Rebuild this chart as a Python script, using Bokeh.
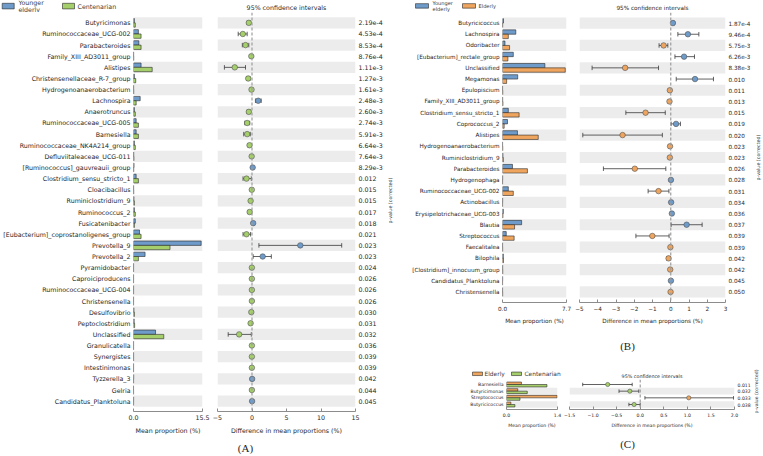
import math
from bokeh.plotting import figure
from bokeh.models import (Range1d, LinearAxis, FixedTicker, Span, ColumnDataSource,
                          PrintfTickFormatter)
from bokeh.layouts import row, column
from bokeh.transform import dodge
from bokeh.core.properties import value
from bokeh.embed import file_html
from bokeh.resources import INLINE

# ---------------- data: panel A (Younger elderly vs Centenarian) ----------------
names_A = ["Butyricimonas", "Ruminococcaceae_UCG-002", "Parabacteroides", "Family_XIII_AD3011_group",
           "Alistipes", "Christensenellaceae_R-7_group", "Hydrogenoanaerobacterium", "Lachnospira",
           "Anaerotruncus", "Ruminococcaceae_UCG-005", "Barnesiella", "Ruminococcaceae_NK4A214_group",
           "Defluviitaleaceae_UCG-011", "[Ruminococcus]_gauvreauii_group", "Clostridium_sensu_stricto_1",
           "Cloacibacillus", "Ruminiclostridium_9", "Ruminococcus_2", "Fusicatenibacter",
           "[Eubacterium]_coprostanoligenes_group", "Prevotella_9", "Prevotella_2", "Pyramidobacter",
           "Caproiciproducens", "Ruminococcaceae_UCG-004", "Christensenella", "Desulfovibrio",
           "Peptoclostridium", "Unclassified", "Granulicatella", "Synergistes", "Intestinimonas",
           "Tyzzerella_3", "Gelria", "Candidatus_Planktoluna"]
young_A = [0.20, 1.10, 1.20, 0.03, 1.70, 0.20, 0.03, 1.50, 0.20, 0.60, 0.60, 0.20, 0.05, 0.12, 0.60,
           0.03, 0.10, 0.20, 0.40, 1.35, 15.20, 2.60, 0.02, 0.02, 0.02, 0.02, 0.10, 0.15, 4.95, 0.02,
           0.02, 0.02, 0.04, 0.01, 0.03]
cent_A = [0.40, 1.70, 1.70, 0.05, 4.20, 0.50, 0.05, 0.60, 0.40, 1.10, 1.10, 0.40, 0.10, 0.05, 1.10,
          0.05, 0.20, 0.40, 0.20, 1.70, 8.20, 1.10, 0.02, 0.02, 0.02, 0.02, 0.20, 0.25, 6.80, 0.02,
          0.02, 0.02, 0.02, 0.02, 0.02]
diff_A = [-0.46, -1.33, -0.94, -0.10, -2.50, -0.55, -0.07, 0.90, -0.46, -0.70, -0.70, -0.36, -0.05,
          0.10, -0.80, -0.03, -0.20, -0.34, 0.17, -0.80, 7.00, 1.55, -0.02, -0.02, -0.02, -0.02,
          -0.10, -0.20, -1.86, -0.02, -0.02, -0.02, 0.02, -0.02, 0.01]
lo_A = [-0.70, -2.00, -1.40, -0.20, -4.00, -0.80, -0.15, 0.50, -0.70, -1.05, -1.20, -0.55, -0.12,
        0.02, -1.30, -0.07, -0.35, -0.55, 0.05, -1.30, 1.00, 0.17, -0.05, -0.05, -0.05, -0.05,
        -0.20, -0.35, -3.45, -0.05, -0.05, -0.05, 0.00, -0.05, 0.00]
hi_A = [-0.22, -0.70, -0.46, -0.01, -0.94, -0.30, -0.01, 1.33, -0.22, -0.33, -0.25, -0.15, -0.01,
        0.18, -0.10, -0.01, -0.05, -0.12, 0.30, -0.20, 13.00, 2.80, -0.01, -0.01, -0.01, -0.01,
        -0.02, -0.05, -0.10, -0.01, -0.01, -0.01, 0.04, -0.01, 0.03]
pvals_A = ["2.19e-4", "4.53e-4", "8.53e-4", "8.76e-4", "1.11e-3", "1.27e-3", "1.61e-3", "2.48e-3",
           "2.60e-3", "2.74e-3", "5.91e-3", "6.64e-3", "7.64e-3", "8.29e-3", "0.012", "0.015", "0.015",
           "0.017", "0.018", "0.021", "0.023", "0.023", "0.024", "0.026", "0.026", "0.026", "0.030",
           "0.031", "0.032", "0.036", "0.039", "0.039", "0.042", "0.044", "0.045"]
bar_max_A = 15.5
ci_range_A = (-5, 15)
ci_ticks_A = [-5, 0, 5, 10, 15]

# ---------------- data: panel B (Younger elderly vs Elderly) ----------------
names_B = ["Butyricicoccus", "Lachnospira", "Odoribacter", "[Eubacterium]_rectale_group", "Unclassified",
           "Megamonas", "Epulopiscium", "Family_XIII_AD3011_group", "Clostridium_sensu_stricto_1",
           "Coprococcus_2", "Alistipes", "Hydrogenoanaerobacterium", "Ruminiclostridium_9",
           "Parabacteroides", "Hydrogenophaga", "Ruminococcaceae_UCG-002", "Actinobacillus",
           "Erysipelotrichaceae_UCG-003", "Blautia", "Streptococcus", "Faecalitalea", "Bilophila",
           "[Clostridium]_innocuum_group", "Candidatus_Planktoluna", "Christensenella"]
young_B = [0.12, 1.60, 0.30, 1.30, 5.10, 1.83, 0.01, 0.02, 0.70, 0.60, 1.80, 0.01, 0.05, 1.20, 0.02,
           0.70, 0.02, 0.10, 2.30, 0.45, 0.01, 0.10, 0.02, 0.02, 0.01]
eld_B = [0.02, 0.70, 0.85, 0.65, 7.55, 0.50, 0.03, 0.05, 2.00, 0.20, 4.30, 0.03, 0.10, 3.00, 0.01,
         1.30, 0.01, 0.05, 1.45, 1.40, 0.02, 0.12, 0.03, 0.01, 0.02]
diff_B = [0.12, 0.94, -0.39, 0.73, -2.50, 1.33, -0.05, -0.07, -1.38, 0.29, -2.64, -0.04, -0.05, -1.97,
          0.01, -0.67, 0.02, 0.06, 0.87, -1.01, -0.02, -0.12, -0.03, 0.01, -0.01]
lo_B = [0.06, 0.39, -0.64, 0.23, -4.31, 0.30, -0.10, -0.13, -2.46, 0.02, -4.82, -0.08, -0.10, -3.69,
        0.00, -1.24, 0.00, 0.02, 0.02, -1.91, -0.05, -0.22, -0.06, 0.00, -0.03]
hi_B = [0.18, 1.54, -0.16, 1.30, -0.67, 2.34, -0.01, -0.02, -0.30, 0.53, -0.46, -0.01, -0.01, -0.27,
        0.02, -0.10, 0.04, 0.10, 1.72, -0.09, -0.01, -0.03, -0.01, 0.02, 0.00]
pvals_B = ["1.87e-4", "9.46e-4", "5.75e-3", "6.26e-3", "8.38e-3", "0.010", "0.011", "0.013", "0.015",
           "0.019", "0.020", "0.023", "0.023", "0.026", "0.028", "0.031", "0.034", "0.036", "0.037",
           "0.039", "0.039", "0.042", "0.042", "0.045", "0.050"]
bar_max_B = 7.7
ci_range_B = (-5, 3)
ci_ticks_B = [-5, -4, -3, -2, -1, 0, 1, 2, 3]

# ---------------- data: panel C (Elderly vs Centenarian) ----------------
names_C = ["Barnesiella", "Butyricimonas", "Streptococcus", "Butyricicoccus"]
eld_C = [0.41, 0.31, 1.39, 0.12]
cent_C = [1.11, 0.57, 0.37, 0.23]
diff_C = [-0.69, -0.22, 1.03, -0.13]
lo_C = [-1.22, -0.45, 0.10, -0.24]
hi_C = [-0.17, -0.03, 1.98, 0.00]
pvals_C = ["0.011", "0.032", "0.033", "0.038"]
bar_max_C = 1.4
ci_range_C = (-1.5, 2.0)
ci_ticks_C = [-1.5, -1.0, -0.5, 0.0, 0.5, 1.0, 1.5, 2.0]

# ---------------- style ----------------
FONT = "DejaVu Sans"
SERIF = "Liberation Serif"
TXT = "#1e1e1e"
LEGTXT = "#3a3a3a"
AXC = "#8c8c8c"
BAND = "#ececec"
ERR = "#3a3a3a"
EDGE = "#2a2a2a"
BLUE = "#6e9bc9"
GREEN = "#a5cf6a"
ORANGE = "#f0a55e"
BASE = dict(output_backend="svg", toolbar_location=None, outline_line_color=None, frame_align=False)


def fmt_tick(v, dec):
    return f"{v:.{dec}f}".replace("-", "\u2212")


def style_x(ax, fs, als):
    ax.axis_line_color = AXC
    ax.major_tick_line_color = AXC
    ax.minor_tick_line_color = None
    ax.major_tick_in = 3
    ax.major_tick_out = 0
    ax.major_label_standoff = 3
    ax.axis_label_standoff = als
    ax.major_label_text_font = FONT
    ax.major_label_text_font_size = fs
    ax.major_label_text_color = TXT
    ax.axis_label_text_font = FONT
    ax.axis_label_text_font_size = fs
    ax.axis_label_text_font_style = "normal"
    ax.axis_label_text_color = TXT


def style_y(ax, fs):
    ax.axis_line_color = None
    ax.major_tick_line_color = None
    ax.minor_tick_line_color = None
    ax.major_tick_in = 0
    ax.major_tick_out = 0
    ax.major_label_standoff = 3
    ax.major_label_text_font = FONT
    ax.major_label_text_font_size = fs
    ax.major_label_text_color = TXT


def px_fig(x0, y0, w, h):
    """A plain figure whose data units are the page pixels of its own area."""
    f = figure(width=w, height=h, x_range=Range1d(x0, x0 + w), y_range=Range1d(y0 + h, y0),
               min_border_left=0, min_border_right=0, min_border_top=0, min_border_bottom=0,
               x_axis_location=None, y_axis_location=None, title=None, **BASE)
    f.grid.visible = False
    return f


def panel(names, m1, m2, diff, lo, hi, pvals, col1, col2, lab1, lab2,
          bar_max, ci_range, ci_ticks, ci_dec, letter, g):
    n = len(names)
    ys = list(range(n - 1, -1, -1))
    dot = [col1 if d > 0 else col2 for d in diff]
    src = ColumnDataSource(dict(y=ys, m1=m1, m2=m2, diff=diff, lo=lo, hi=hi, dot=dot))
    band = ColumnDataSource(dict(y=[y for y in ys if y % 2 == 0]))
    y_start, y_end = -0.5 - g["pad"], n - 0.5 + g["pad"]
    fs = f'{g["fs"]}px'
    cx0, cx1 = ci_range
    x0, y0, top, fh, hm = g["x0"], g["y0"], g["top"], g["fh"], g["hm"]
    bot = hm - top - fh

    # ---- legend strip above the bar panel ----
    strip = px_fig(x0, y0, g["bw"], top)
    cy, gw, gh, boxes, texts, lfs = g["leg"]
    strip.rect(x=[b + gw / 2 for b in boxes], y=[cy, cy], width=gw, height=gh,
               fill_color=[col1, col2], line_color=EDGE, line_width=0.6)
    strip.text(x=texts, y=[cy, cy], text=[lab1, lab2], text_font=value(FONT),
               text_font_size=f"{lfs}px", text_baseline="middle", text_align="left",
               text_line_height=1.0, text_color=LEGTXT)

    # ---- mean proportion bars ----
    pb = figure(width=g["bw"], height=hm - top, x_range=Range1d(0, bar_max),
                y_range=Range1d(y_start, y_end), min_border_left=g["bl"], min_border_right=g["br"],
                min_border_top=0, min_border_bottom=bot, title=None, **BASE)
    pb.xgrid.visible = False
    pb.ygrid.visible = False
    pb.hbar(y="y", left=0, right=bar_max, height=1, source=band, fill_color=BAND, line_color=None)
    bh = g["barh"]
    pb.hbar(y=dodge("y", bh / 2), left=0, right="m1", height=bh, source=src,
            fill_color=col1, line_color=EDGE, line_width=0.6)
    pb.hbar(y=dodge("y", -bh / 2), left=0, right="m2", height=bh, source=src,
            fill_color=col2, line_color=EDGE, line_width=0.6)
    xa = pb.xaxis[0]
    xa.ticker = FixedTicker(ticks=[0, bar_max])
    xa.formatter = PrintfTickFormatter(format="%.1f")
    xa.bounds = (0, bar_max)
    xa.axis_label = "Mean proportion (%)"
    style_x(xa, fs, g["als"])
    ya = pb.yaxis[0]
    ya.ticker = FixedTicker(ticks=ys)
    ya.major_label_overrides = {y: nm for y, nm in zip(ys, names)}
    style_y(ya, fs)

    # ---- confidence intervals ----
    pc = figure(width=g["cw"], height=hm, x_range=Range1d(cx0, cx1), y_range=Range1d(y_start, y_end),
                min_border_left=g["cl"], min_border_right=g["cr"], min_border_top=top,
                min_border_bottom=bot, y_axis_location=None,
                title="95% confidence intervals", **BASE)
    pc.title.align = "center"
    pc.title.text_font = FONT
    pc.title.text_font_size = f'{g["tfs"]}px'
    pc.title.text_font_style = "normal"
    pc.title.text_color = TXT
    pc.title.standoff = g["tso"]
    pc.xgrid.visible = False
    pc.ygrid.visible = False
    pc.hbar(y="y", left=cx0, right=cx1, height=1, source=band, fill_color=BAND, line_color=None)
    pc.add_layout(Span(location=0, dimension="height", line_color="#9d9d9d",
                       line_dash="3 2", line_width=1.2))
    pc.segment(x0="lo", x1="hi", y0="y", y1="y", source=src, line_color=ERR, line_width=0.8)
    pc.scatter(x="lo", y="y", source=src, marker="dash", angle=math.pi / 2, size=g["cap"],
               line_color=ERR, line_width=0.8)
    pc.scatter(x="hi", y="y", source=src, marker="dash", angle=math.pi / 2, size=g["cap"],
               line_color=ERR, line_width=0.8)
    pc.scatter(x="diff", y="y", source=src, size=g["dot"], fill_color="dot",
               line_color="#505050", line_width=0.6)
    xc = pc.xaxis[0]
    xc.ticker = FixedTicker(ticks=ci_ticks)
    xc.major_label_overrides = {t: fmt_tick(t, ci_dec) for t in ci_ticks}
    xc.bounds = (cx0, cx1)
    xc.axis_label = "Difference in mean proportions (%)"
    style_x(xc, fs, g["als"])
    ra = LinearAxis(ticker=FixedTicker(ticks=ys),
                    major_label_overrides={y: p for y, p in zip(ys, pvals)})
    style_y(ra, fs)
    pc.add_layout(ra, "right")

    # ---- rotated p-value caption ----
    plx = x0 + g["bw"] + g["cw"]
    plab = px_fig(plx, y0, g["pw"], hm)
    px, py, pfs = g["plab"]
    plab.text(x=[px], y=[py], text=["p-value (corrected)"], angle=math.pi / 2,
              text_font=value(FONT), text_font_size=f"{pfs}px", text_align="center",
              text_baseline="middle", text_color=LEGTXT)

    # ---- panel letter ----
    wtot = g["bw"] + g["cw"] + g["pw"]
    lf = px_fig(x0, y0 + hm, wtot, g["hl"])
    lx, ly = g["letter"]
    lf.text(x=[lx], y=[ly], text=[letter], text_font=value(SERIF), text_font_size="11px",
            text_align="center", text_baseline="middle", text_color=TXT)

    return column(row(column(strip, pb), pc, plab), lf)


gA = dict(x0=0, y0=0, top=12, fh=399, hm=437, hl=18, pad=0.43,
          bw=210, bl=131, br=8, cw=176, cl=7, cr=31, pw=9,
          fs=6.3, tfs=6.3, tso=3, als=4, barh=0.39, cap=4.5, dot=5.5,
          leg=(5.6, 12, 5.6, [1.7, 62], [18, 77], 6.3),
          plab=(389.5, 200, 4.8), letter=(245, 447))
gB = dict(x0=395, y0=0, top=12, fh=290, hm=334, hl=18, pad=0.44,
          bw=177, bl=107, br=6, cw=181, cl=7, cr=24, pw=10,
          fs=5.7, tfs=5.7, tso=3, als=4, barh=0.39, cap=4.5, dot=5.5,
          leg=(5.4, 13, 4.5, [415, 462], [432, 478], 5.1),
          plab=(758, 157, 4.8), letter=(627, 345))
gC = dict(x0=395, y0=352, top=27, fh=30, hm=78, hl=25, pad=0.25,
          bw=168, bl=111, br=6, cw=190, cl=6, cr=18, pw=10,
          fs=4.6, tfs=4.8, tso=2, als=3, barh=0.37, cap=3.5, dot=4.2,
          leg=(373.3, 10, 3.5, [472, 511], [484, 524], 5.9),
          plab=(756, 391, 4.6), letter=(627, 443))

pA = panel(names_A, young_A, cent_A, diff_A, lo_A, hi_A, pvals_A, BLUE, GREEN,
           "Younger\nelderly", "Centenarian", bar_max_A, ci_range_A, ci_ticks_A, 0, "(A)", gA)
pB = panel(names_B, young_B, eld_B, diff_B, lo_B, hi_B, pvals_B, BLUE, ORANGE,
           "Younger\nelderly", "Elderly", bar_max_B, ci_range_B, ci_ticks_B, 0, "(B)", gB)
pC = panel(names_C, eld_C, cent_C, diff_C, lo_C, hi_C, pvals_C, ORANGE, GREEN,
           "Elderly", "Centenarian", bar_max_C, ci_range_C, ci_ticks_C, 1, "(C)", gC)

root = row(pA, column(pB, pC))

open("out.html", "w").write(file_html(root, INLINE))
